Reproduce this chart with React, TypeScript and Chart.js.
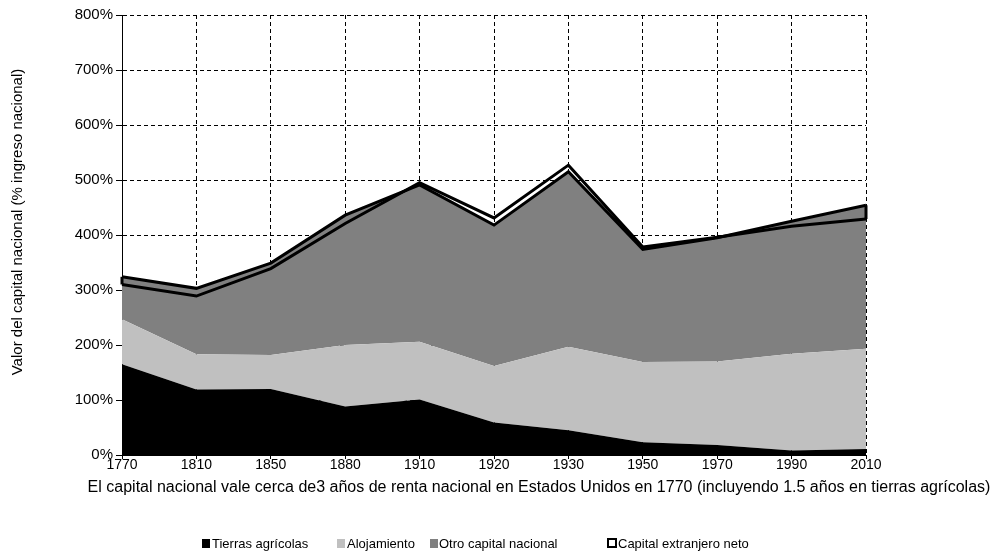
import React, { useEffect, useRef } from 'react';
import { Chart, registerables } from 'chart.js';

Chart.register(...registerables);

// Categories (years)
const years = ['1770', '1810', '1850', '1880', '1910', '1920', '1930', '1950', '1970', '1990', '2010'];

// Series values (% of national income)
const tierrasAgricolas = [165, 119, 120, 88, 101, 59, 45, 23, 18, 8, 11];
const alojamiento = [82, 64, 62, 112, 105, 103, 152, 146, 152, 176, 182];
const otroCapitalNacional = [77, 120, 167, 236, 285, 256, 318, 205, 225, 241, 261];
const capitalExtranjeroNeto = [-14, -14, -10, -15, 4, 13, 12, 4, 1, -9, -25];

// Axis ticks
const yTickValues = [0, 100, 200, 300, 400, 500, 600, 700, 800];

const seriesNames = ['Tierras agrícolas', 'Alojamiento', 'Otro capital nacional', 'Capital extranjero neto'];
const yTitle = 'Valor del capital nacional (% ingreso nacional)';
const xTitle =
  'El capital nacional vale cerca de3 años de renta nacional en Estados Unidos en 1770 (incluyendo 1.5 años en tierras agrícolas)';

const FONT = 'Arial, "Liberation Sans", sans-serif';

export default function App() {
  const ref = useRef<HTMLCanvasElement | null>(null);

  useEffect(() => {
    document.body.style.margin = '0';
    const canvas = ref.current;
    if (!canvas) return;

    const cum1 = tierrasAgricolas.slice();
    const cum2 = cum1.map((v, i) => v + alojamiento[i]);
    const cum3 = cum2.map((v, i) => v + otroCapitalNacional[i]);
    const cum4 = cum3.map((v, i) => v + capitalExtranjeroNeto[i]);

    const overlay = {
      id: 'overlay',
      afterDatasetsDraw(chart: any) {
        const ctx = chart.ctx;
        const m3 = chart.getDatasetMeta(2);
        const m4 = chart.getDatasetMeta(3);
        const last = m3.data.length - 1;
        ctx.save();
        ctx.strokeStyle = '#000';
        ctx.lineWidth = 3;
        for (const i of [0, last]) {
          const a = m3.data[i];
          const b = m4.data[i];
          ctx.beginPath();
          ctx.moveTo(a.x, a.y);
          ctx.lineTo(b.x, b.y);
          ctx.stroke();
        }
        ctx.restore();
      },
      afterDraw(chart: any) {
        const ctx = chart.ctx;
        ctx.save();
        ctx.fillStyle = '#000';
        // Y axis title
        ctx.font = `15px ${FONT}`;
        ctx.textAlign = 'center';
        ctx.textBaseline = 'middle';
        ctx.save();
        ctx.translate(18, 222);
        ctx.rotate(-Math.PI / 2);
        ctx.fillText(yTitle, 0, 0);
        ctx.restore();
        // X axis title
        ctx.font = `16px ${FONT}`;
        ctx.fillText(xTitle, 539, 488);
        // Legend
        ctx.font = `13px ${FONT}`;
        ctx.textAlign = 'left';
        const items = [
          { x: 202, tx: 212, fill: '#000000', stroke: null },
          { x: 337, tx: 347, fill: '#c0c0c0', stroke: null },
          { x: 430, tx: 439, fill: '#808080', stroke: null },
          { x: 607, tx: 618, fill: '#ffffff', stroke: '#000000' },
        ];
        const ly = 543;
        items.forEach((it, k) => {
          if (it.stroke) {
            ctx.fillStyle = it.fill;
            ctx.fillRect(it.x + 1, ly - 4, 8, 8);
            ctx.strokeStyle = it.stroke;
            ctx.lineWidth = 2;
            ctx.strokeRect(it.x + 1, ly - 4, 8, 8);
          } else {
            ctx.fillStyle = it.fill;
            ctx.fillRect(it.x, ly - 4, 8, 9);
          }
          ctx.fillStyle = '#000';
          ctx.fillText(seriesNames[k], it.tx, ly + 1);
        });
        ctx.restore();
      },
    };

    const chart = new Chart(canvas, {
      type: 'line',
      data: {
        labels: years,
        datasets: [
          {
            label: seriesNames[0],
            data: cum1,
            fill: 'origin',
            backgroundColor: '#000000',
            borderColor: '#000000',
            borderWidth: 0,
          },
          {
            label: seriesNames[1],
            data: cum2,
            fill: '-1',
            backgroundColor: '#c0c0c0',
            borderColor: '#c0c0c0',
            borderWidth: 0,
          },
          {
            label: seriesNames[2],
            data: cum3,
            fill: '-1',
            backgroundColor: '#808080',
            borderColor: '#000000',
            borderWidth: 3,
          },
          {
            label: seriesNames[3],
            data: cum4,
            fill: '-1',
            backgroundColor: 'rgba(255,255,255,0)',
            borderColor: '#000000',
            borderWidth: 3,
          },
        ],
      },
      options: {
        animation: false,
        responsive: true,
        maintainAspectRatio: false,
        layout: { padding: { top: 15, right: 127, left: 0, bottom: 0 } },
        elements: { point: { radius: 0, hoverRadius: 0 }, line: { tension: 0 } },
        plugins: {
          legend: { display: false },
          tooltip: { enabled: false },
          filler: { drawTime: 'beforeDatasetsDraw' },
        } as any,
        scales: {
          x: {
            type: 'category',
            offset: false,
            grid: { color: '#000', lineWidth: 1, offset: false, drawTicks: true, tickLength: 4, tickColor: '#000' },
            border: { display: true, color: '#000', width: 1, dash: [4, 3] },
            ticks: { color: '#000', font: { family: FONT, size: 14 }, padding: -2, maxRotation: 0, autoSkip: false },
            afterFit: (s: any) => {
              s.height = 97;
            },
          },
          y: {
            min: 0,
            max: 800,
            afterBuildTicks: (s: any) => {
              s.ticks = yTickValues.map((v) => ({ value: v }));
            },
            grid: { color: '#000', lineWidth: 1, drawTicks: true, tickLength: 6, tickColor: '#000' },
            border: { display: true, color: '#000', width: 1, dash: [4, 3] },
            ticks: {
              color: '#000',
              font: { family: FONT, size: 15 },
              padding: 3,
              callback: (v: any) => `${v}%`,
            },
            afterFit: (s: any) => {
              s.width = 122;
            },
          },
        },
      },
      plugins: [overlay],
    });

    return () => chart.destroy();
  }, []);

  return (
    <div style={{ position: 'absolute', left: 0, top: 0, width: 993, height: 552 }}>
      <canvas ref={ref} />
    </div>
  );
}
